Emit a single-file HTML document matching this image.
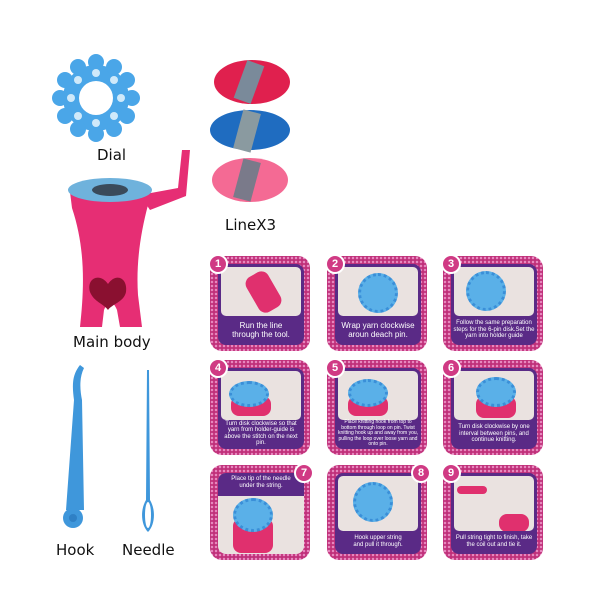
<!DOCTYPE html>
<html><head><meta charset="utf-8"><style>
body{margin:0;width:600px;height:600px;background:#fff;overflow:hidden;font-family:"Liberation Sans",sans-serif}
.lbl{position:absolute;font-size:15px;color:#111;font-family:"DejaVu Sans","Liberation Sans",sans-serif}
.p{position:absolute;width:100px;height:95px;border-radius:12px;background:#c0307a;background-image:radial-gradient(#e88ac0 1px,transparent 1.5px);background-size:4px 4px}
.in{position:absolute;left:8px;top:8px;right:6px;bottom:6px;background:#5a2a86;border-radius:8px}
.ph{position:absolute;left:3px;top:3px;right:3px;height:60%;background:#eae2e0;border-radius:5px;overflow:hidden}
.cap{position:absolute;left:2px;right:2px;bottom:1px;height:35%;color:#fff;font-size:6px;line-height:6.5px;text-align:center;display:flex;align-items:center;justify-content:center}
.big{font-size:8px;line-height:9px}
.n{position:absolute;left:-2px;top:-2px;width:16px;height:16px;border-radius:50%;background:#d03a84;border:2px solid #fff;color:#fff;font-weight:bold;font-size:11px;text-align:center;line-height:16px}
.disk{position:absolute;width:34px;height:34px;border-radius:50%;background:#5ab0e8;border:3px dotted #3a8fd8}
.pink{position:absolute;background:#e0306e;border-radius:8px}
</style></head><body>
<svg width="600" height="600" style="position:absolute;left:0;top:0">
<g transform="translate(96,98)" fill="#4aa6e8">
<circle r="33"/>
<g><circle cx="0" cy="-36" r="8"/><circle cx="18" cy="-31" r="8"/><circle cx="31" cy="-18" r="8"/><circle cx="36" cy="0" r="8"/><circle cx="31" cy="18" r="8"/><circle cx="18" cy="31" r="8"/><circle cx="0" cy="36" r="8"/><circle cx="-18" cy="31" r="8"/><circle cx="-31" cy="18" r="8"/><circle cx="-36" cy="0" r="8"/><circle cx="-31" cy="-18" r="8"/><circle cx="-18" cy="-31" r="8"/></g>
<circle r="17" fill="#fff"/>
<g fill="#cfe9fa"><circle cx="0" cy="-25" r="4"/><circle cx="25" cy="0" r="4"/><circle cx="0" cy="25" r="4"/><circle cx="-25" cy="0" r="4"/><circle cx="18" cy="18" r="4"/><circle cx="-18" cy="-18" r="4"/><circle cx="18" cy="-18" r="4"/><circle cx="-18" cy="18" r="4"/></g>
</g>
<ellipse cx="252" cy="82" rx="38" ry="22" fill="#e0204e"/><rect x="240" y="62" width="18" height="40" fill="#7a8a9a" transform="rotate(20 249 82)"/>
<ellipse cx="250" cy="130" rx="40" ry="20" fill="#1f6cc0"/><rect x="238" y="111" width="18" height="40" fill="#8a9aa0" transform="rotate(15 247 131)"/>
<ellipse cx="250" cy="180" rx="38" ry="22" fill="#f46a94"/><rect x="238" y="160" width="18" height="40" fill="#7a7a8a" transform="rotate(15 247 180)"/>
<path d="M70 192 L150 192 L148 205 C140 235 136 265 138 295 L142 327 L120 327 L117 310 C113 300 108 300 104 310 L102 327 L80 327 C84 290 86 250 72 208 Z" fill="#e62e74"/>
<path d="M140 195 L178 188 L182 150 L190 150 L186 196 L150 210 Z" fill="#e62e74"/>
<ellipse cx="110" cy="190" rx="42" ry="12" fill="#6fb2dc"/>
<ellipse cx="110" cy="190" rx="18" ry="6" fill="#3a4a5a"/>
<path d="M108 284 C100 272 86 278 90 292 C94 302 104 304 108 310 C112 304 124 302 126 292 C128 278 116 272 108 284Z" fill="#8a1030"/>
<path d="M74 400 C72 385 72 375 80 365 L84 368 C79 378 80 390 82 400 L84 510 L66 510 Z" fill="#3f97db"/>
<circle cx="73" cy="518" r="10" fill="#3f97db"/><circle cx="73" cy="518" r="4" fill="#2f80c5"/>
<path d="M147 370 L149 370 L150 500 C156 510 155 525 148 532 C141 525 140 510 146 500 Z" fill="#3f97db"/>
<ellipse cx="148" cy="515" rx="3" ry="13" fill="#fff"/>
</svg>
<div class="lbl" style="left:97px;top:146px">Dial</div>
<div class="lbl" style="left:225px;top:216px">LineX3</div>
<div class="lbl" style="left:73px;top:333px">Main body</div>
<div class="lbl" style="left:56px;top:541px">Hook</div>
<div class="lbl" style="left:122px;top:541px">Needle</div>

<div class="p" style="left:210px;top:256px"><div class="in"><div class="ph"><div class="pink" style="left:30px;top:5px;width:25px;height:40px;transform:rotate(-30deg)"></div></div><div class="cap big">Run the line<br>through the tool.</div></div><div class="n">1</div></div>
<div class="p" style="left:327px;top:256px"><div class="in"><div class="ph"><div class="disk" style="left:20px;top:6px"></div></div><div class="cap big">Wrap yarn clockwise<br>aroun deach pin.</div></div><div class="n">2</div></div>
<div class="p" style="left:443px;top:256px"><div class="in"><div class="ph"><div class="disk" style="left:12px;top:4px"></div></div><div class="cap">Follow the same preparation steps for the 6-pin disk.Set the yarn into holder guide</div></div><div class="n">3</div></div>

<div class="p" style="left:210px;top:360px"><div class="in"><div class="ph"><div class="pink" style="left:10px;top:25px;width:40px;height:20px"></div><div class="disk" style="left:8px;top:10px;height:20px"></div></div><div class="cap">Turn disk clockwise so that yarn from holder-guide is above the stitch on the next pin.</div></div><div class="n">4</div></div>
<div class="p" style="left:327px;top:360px"><div class="in"><div class="ph"><div class="pink" style="left:10px;top:25px;width:40px;height:20px"></div><div class="disk" style="left:10px;top:8px;height:22px"></div></div><div class="cap" style="font-size:5px;line-height:5.5px">Place knitting hook from top to bottom through loop on pin. Twist knitting hook up and away from you, pulling the loop over loose yarn and onto pin.</div></div><div class="n">5</div></div>
<div class="p" style="left:443px;top:360px"><div class="in"><div class="ph"><div class="pink" style="left:22px;top:25px;width:40px;height:22px"></div><div class="disk" style="left:22px;top:6px;height:24px"></div></div><div class="cap">Turn disk clockwise by one interval between pins, and continue knitting.</div></div><div class="n">6</div></div>

<div class="p" style="left:210px;top:465px"><div class="in" style="background:#eae2e0"><div style="position:absolute;left:0;right:0;top:0;height:20px;background:#5a2a86;color:#fff;font-size:6px;line-height:7px;text-align:center;padding-top:3px;border-radius:8px 8px 0 0">Place tip of the needle<br>under the string.</div><div class="pink" style="left:15px;top:45px;width:40px;height:35px"></div><div class="disk" style="left:15px;top:25px;height:28px"></div></div><div class="n" style="left:84px">7</div></div>
<div class="p" style="left:327px;top:465px"><div class="in"><div class="ph" style="height:68%"><div class="disk" style="left:15px;top:6px"></div></div><div class="cap" style="height:28%">Hook upper string<br>and pull it through.</div></div><div class="n" style="left:84px">8</div></div>
<div class="p" style="left:443px;top:465px"><div class="in"><div class="ph" style="height:68%"><div class="pink" style="left:3px;top:10px;width:30px;height:8px"></div><div class="pink" style="left:45px;top:38px;width:30px;height:18px"></div></div><div class="cap" style="height:28%">Pull string tight to finish, take the coil out and tie it.</div></div><div class="n">9</div></div>
</body></html>
